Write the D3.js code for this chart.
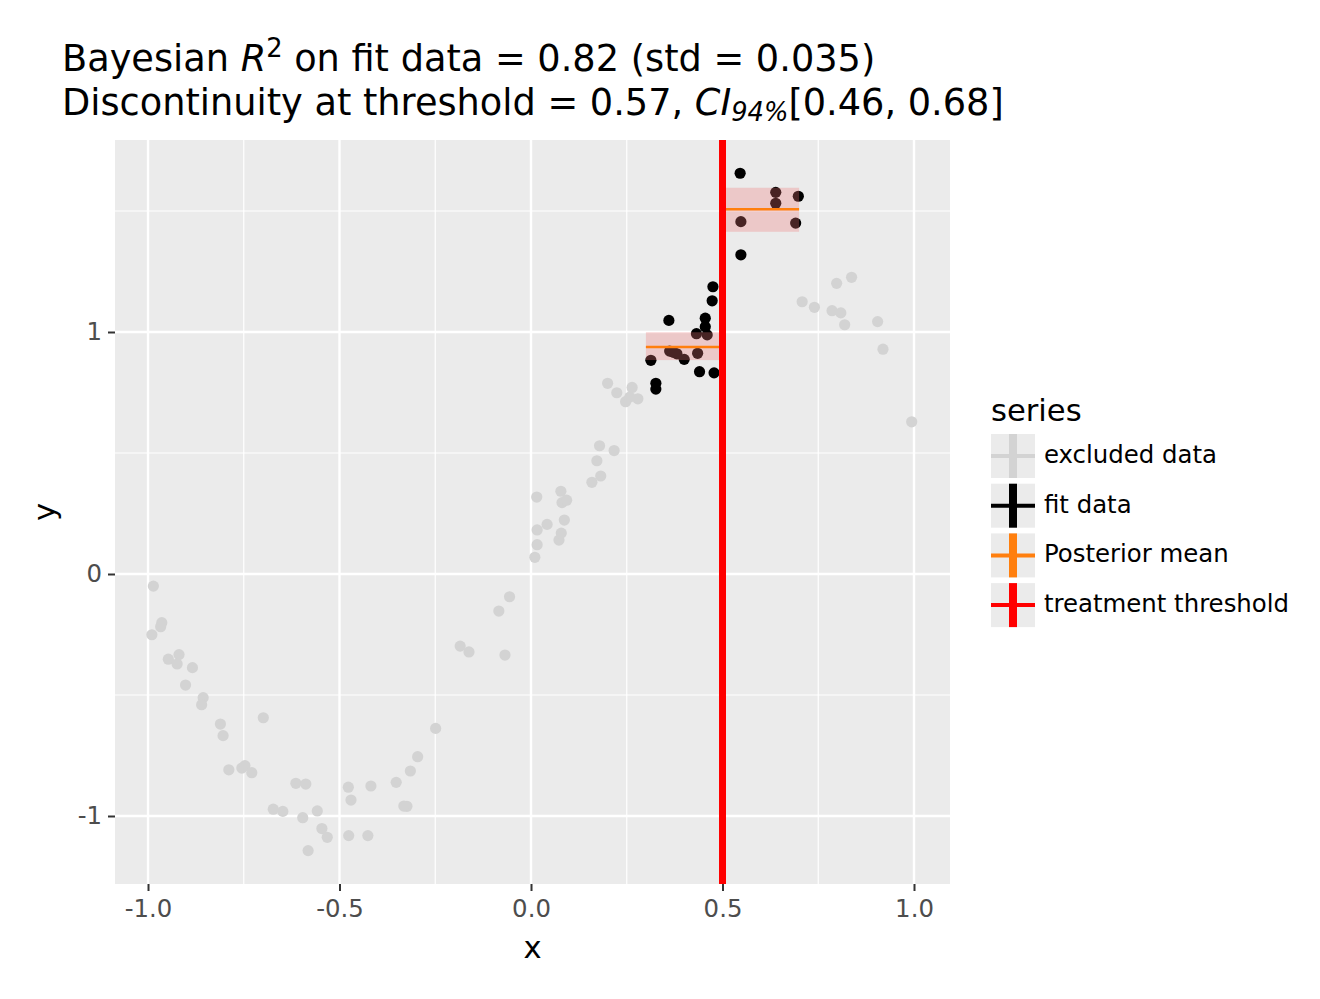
<!DOCTYPE html>
<html><head><meta charset="utf-8">
<script src="https://cdn.jsdelivr.net/npm/d3@7"></script>
<style>body{margin:0;background:#fff;} text{font-family:"DejaVu Sans",sans-serif;}</style>
</head><body>
<svg id="chart" width="1320" height="999"></svg>
<script>
// excluded data
const excludedX = [-0.986,-0.964,-0.967,-0.990,-0.947,-0.919,-0.924,-0.884,-0.902,-0.856,-0.860,-0.699,-0.811,-0.804,-0.789,-0.755,-0.747,-0.729,-0.614,-0.588,-0.673,-0.648,-0.596,-0.558,-0.546,-0.532,-0.582,-0.477,-0.470,-0.476,-0.426,-0.418,-0.352,-0.324,-0.332,-0.315,-0.296,-0.249,-0.185,-0.162,-0.084,-0.056,-0.068,0.010,0.016,0.016,0.042,0.015,0.073,0.079,0.087,0.078,0.081,0.093,0.159,0.182,0.172,0.179,0.217,0.200,0.224,0.264,0.247,0.279,0.258,0.708,0.740,0.798,0.837,0.786,0.809,0.819,0.905,0.919,0.994];
const excludedY = [-0.050,-0.201,-0.218,-0.251,-0.352,-0.333,-0.372,-0.387,-0.459,-0.511,-0.540,-0.594,-0.620,-0.668,-0.809,-0.802,-0.792,-0.821,-0.865,-0.868,-0.972,-0.981,-1.007,-0.979,-1.052,-1.088,-1.143,-0.881,-0.934,-1.081,-1.081,-0.876,-0.861,-0.960,-0.959,-0.814,-0.755,-0.638,-0.298,-0.322,-0.153,-0.094,-0.335,0.069,0.121,0.182,0.205,0.318,0.140,0.169,0.223,0.342,0.295,0.305,0.379,0.405,0.468,0.530,0.510,0.788,0.749,0.771,0.712,0.724,0.731,1.125,1.102,1.201,1.226,1.088,1.079,1.030,1.043,0.929,0.629];
// fit data
const fitX = [0.546,0.639,0.639,0.698,0.548,0.691,0.548,0.475,0.473,0.360,0.455,0.455,0.432,0.460,0.362,0.372,0.381,0.400,0.435,0.313,0.440,0.478,0.326,0.326];
const fitY = [1.656,1.577,1.532,1.561,1.456,1.450,1.319,1.187,1.129,1.048,1.057,1.022,0.993,0.988,0.921,0.916,0.910,0.887,0.912,0.883,0.836,0.831,0.788,0.764];
// posterior mean and 94% band on each side of threshold
const bandX0 = [0.30, 0.50];
const bandX1 = [0.50, 0.70];
const bandLow = [0.884, 1.414];
const bandHigh = [0.999, 1.596];
const meanY = [0.938, 1.507];
const threshold = 0.5;
const xTicks = [-1.0, -0.5, 0.0, 0.5, 1.0];
const xTickLabels = ["-1.0", "-0.5", "0.0", "0.5", "1.0"];
const yTicks = [-1, 0, 1];
const yTickLabels = ["-1", "0", "1"];
const xMinor = [-0.75, -0.25, 0.25, 0.75];
const yMinor = [-0.5, 0.5, 1.5];
const legendLabels = ["excluded data", "fit data", "Posterior mean", "treatment threshold"];
const legendColors = ["#D3D3D3", "#000000", "#FF7F0E", "#FF0000"];

const svg = d3.select("#chart");
const L = 115, R = 950, T = 140, B = 884;
const x = d3.scaleLinear().domain([-1.0862, 1.0940]).range([L, R]);
const y = d3.scaleLinear().domain([-1.2810, 1.7934]).range([B, T]);

svg.append("rect").attr("x", L).attr("y", T).attr("width", R - L).attr("height", B - T).attr("fill", "#EBEBEB");
const g = svg.append("g");
g.selectAll(".xmin").data(xMinor).join("line").attr("x1", d => x(d)).attr("x2", d => x(d)).attr("y1", T).attr("y2", B).attr("stroke", "#fff").attr("stroke-width", 1.2);
g.selectAll(".ymin").data(yMinor).join("line").attr("y1", d => y(d)).attr("y2", d => y(d)).attr("x1", L).attr("x2", R).attr("stroke", "#fff").attr("stroke-width", 1.2);
g.selectAll(".xmaj").data(xTicks).join("line").attr("x1", d => x(d)).attr("x2", d => x(d)).attr("y1", T).attr("y2", B).attr("stroke", "#fff").attr("stroke-width", 2.4);
g.selectAll(".ymaj").data(yTicks).join("line").attr("y1", d => y(d)).attr("y2", d => y(d)).attr("x1", L).attr("x2", R).attr("stroke", "#fff").attr("stroke-width", 2.4);

// points
svg.append("g").selectAll("circle").data(excludedX.map((d, i) => [d, excludedY[i]])).join("circle")
  .attr("cx", d => x(d[0])).attr("cy", d => y(d[1])).attr("r", 5.6).attr("fill", "#D3D3D3");
svg.append("g").selectAll("circle").data(fitX.map((d, i) => [d, fitY[i]])).join("circle")
  .attr("cx", d => x(d[0])).attr("cy", d => y(d[1])).attr("r", 5.6).attr("fill", "#000");

// bands
const bands = bandX0.map((d, i) => ({x0: d, x1: bandX1[i], lo: bandLow[i], hi: bandHigh[i], m: meanY[i]}));
svg.append("g").selectAll("rect").data(bands).join("rect")
  .attr("x", d => x(d.x0)).attr("width", d => x(d.x1) - x(d.x0))
  .attr("y", d => y(d.hi)).attr("height", d => y(d.lo) - y(d.hi))
  .attr("fill", "rgb(240,120,120)").attr("fill-opacity", 0.3);
svg.append("g").selectAll("line").data(bands).join("line")
  .attr("x1", d => x(d.x0)).attr("x2", d => x(d.x1)).attr("y1", d => y(d.m)).attr("y2", d => y(d.m))
  .attr("stroke", "#FF7F0E").attr("stroke-width", 2.5);
svg.append("line").attr("x1", x(threshold)).attr("x2", x(threshold)).attr("y1", T).attr("y2", B)
  .attr("stroke", "#FF0000").attr("stroke-width", 7);

// axes
const xAxis = d3.axisBottom(x).tickValues(xTicks).tickFormat((d, i) => xTickLabels[i]).tickSize(7).tickPadding(9);
const xg = svg.append("g").attr("transform", `translate(0,${B})`).call(xAxis);
const yAxis = d3.axisLeft(y).tickValues(yTicks).tickFormat((d, i) => yTickLabels[i]).tickSize(7).tickPadding(6);
const yg = svg.append("g").attr("transform", `translate(${L},0)`).call(yAxis);
[xg, yg].forEach(a => {
  a.select(".domain").remove();
  a.selectAll(".tick line").attr("stroke", "#333").attr("stroke-width", 2);
  a.selectAll(".tick text").attr("fill", "#4D4D4D").style("font-size", "24.4px").style("font-family", "DejaVu Sans");
});
svg.append("text").attr("x", (L + R) / 2).attr("y", 958).attr("text-anchor", "middle").style("font-size", "30.6px").text("x");
svg.append("text").attr("transform", `translate(55,${(T + B) / 2}) rotate(-90)`).attr("text-anchor", "middle").style("font-size", "30.6px").text("y");

// title
const t1 = svg.append("text").attr("x", 62).attr("y", 71).style("font-size", "36.7px");
t1.append("tspan").text("Bayesian ");
t1.append("tspan").style("font-style", "italic").text("R");
t1.append("tspan").attr("dy", -14).style("font-size", "25.7px").text("2");
t1.append("tspan").attr("dy", 14).text(" on fit data = 0.82 (std = 0.035)");
const t2 = svg.append("text").attr("x", 62).attr("y", 115).style("font-size", "36.7px");
t2.append("tspan").text("Discontinuity at threshold = 0.57, ");
t2.append("tspan").style("font-style", "italic").text("CI");
t2.append("tspan").attr("dy", 6).style("font-size", "25.7px").style("font-style", "italic").text("94%");
t2.append("tspan").attr("dy", -6).text("[0.46, 0.68]");

// legend
svg.append("text").attr("x", 991).attr("y", 421).style("font-size", "30.6px").text("series");
const lg = svg.append("g").selectAll("g").data(legendLabels).join("g")
  .attr("transform", (d, i) => `translate(991,${434 + i * 49.7})`);
lg.append("rect").attr("width", 44).attr("height", 44).attr("fill", "#EBEBEB");
lg.append("line").attr("x1", 22).attr("x2", 22).attr("y1", 0).attr("y2", 44).attr("stroke", (d, i) => legendColors[i]).attr("stroke-width", 8);
lg.append("line").attr("x1", 0).attr("x2", 44).attr("y1", 22).attr("y2", 22).attr("stroke", (d, i) => legendColors[i]).attr("stroke-width", 4);
lg.append("circle").attr("cx", 22).attr("cy", 22).attr("r", 4).attr("fill", (d, i) => legendColors[i]);
lg.append("text").attr("x", 53).attr("y", 29).style("font-size", "24.4px").text(d => d);
</script>
</body></html>
